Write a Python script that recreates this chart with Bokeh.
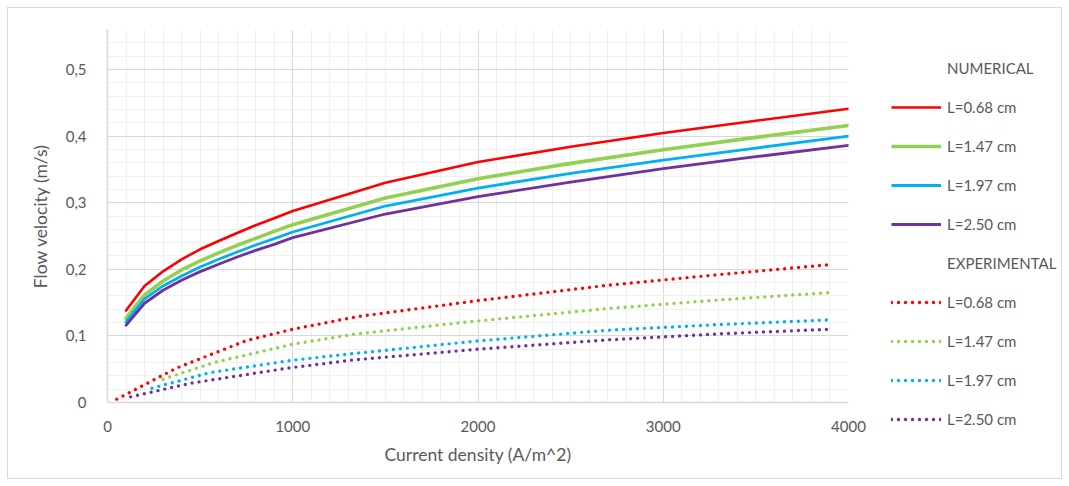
from bokeh.plotting import figure
from bokeh.layouts import row
from bokeh.models import (FixedTicker, Legend, LegendItem, Range1d, InlineStyleSheet)
from bokeh.embed import file_html
from bokeh.resources import INLINE

# ---- data ----
num_x = [100, 200, 300, 400, 500, 600, 700, 800, 900, 1000, 1500, 2000, 2500, 3000, 3500, 4000]
num_068 = [0.138, 0.175, 0.197, 0.215, 0.230, 0.2425, 0.2545, 0.266, 0.2765, 0.2875,
           0.330, 0.361, 0.384, 0.4045, 0.423, 0.441]
num_147 = [0.1265, 0.1615, 0.1825, 0.199, 0.2125, 0.2245, 0.236, 0.2465, 0.257, 0.267,
           0.307, 0.336, 0.359, 0.3795, 0.398, 0.416]
num_197 = [0.121, 0.1555, 0.175, 0.190, 0.2035, 0.215, 0.226, 0.2365, 0.246, 0.256,
           0.295, 0.322, 0.344, 0.364, 0.382, 0.400]
num_250 = [0.116, 0.149, 0.1685, 0.1835, 0.1965, 0.2075, 0.2185, 0.2285, 0.2375, 0.2475,
           0.283, 0.309, 0.331, 0.351, 0.369, 0.386]

exp_068_x = [50, 375, 750, 1000, 1350, 2000, 2700, 3300, 3900]
exp_068 = [0.005, 0.052, 0.093, 0.110, 0.129, 0.153, 0.176, 0.192, 0.207]
exp_147_x = [300, 575, 1000, 1330, 2000, 2700, 3300, 3900]
exp_147 = [0.035, 0.060, 0.0875, 0.1025, 0.1225, 0.141, 0.154, 0.165]
exp_197_x = [240, 555, 1000, 1330, 2000, 2700, 3300, 3900]
exp_197 = [0.0215, 0.045, 0.0635, 0.0735, 0.0925, 0.1085, 0.117, 0.124]
exp_250_x = [125, 450, 970, 1330, 2000, 2700, 3300, 3900]
exp_250 = [0.0085, 0.029, 0.0515, 0.064, 0.080, 0.094, 0.103, 0.110]

labels = ["L=0.68 cm", "L=1.47 cm", "L=1.97 cm", "L=2.50 cm"]
colors = ["#FF0000", "#92D050", "#00B0F0", "#7030A0"]
widths = [2.6, 3.6, 2.8, 2.8]

x_ticks = [0, 1000, 2000, 3000, 4000]
y_ticks = [0, 0.1, 0.2, 0.3, 0.4, 0.5]
y_tick_labels = ["0", "0,1", "0,2", "0,3", "0,4", "0,5"]

FONT = "Lato"
TXT = "#595959"
EXP_W = 3.4
EXP_DASH = "0 7"

# ---------------- main chart ----------------
p = figure(width=870, height=486, output_backend="svg", toolbar_location=None,
           x_range=Range1d(0, 4000), y_range=Range1d(0, 0.56),
           min_border_left=107, min_border_right=22, min_border_top=29,
           min_border_bottom=84)
p.background_fill_color = "white"
p.border_fill_color = None
p.outline_line_color = None

p.xaxis.ticker = FixedTicker(ticks=x_ticks, minor_ticks=list(range(0, 4001, 100)))
p.yaxis.ticker = FixedTicker(ticks=y_ticks, minor_ticks=[i * 0.02 for i in range(29)])
p.yaxis.major_label_overrides = {t: l for t, l in zip(y_ticks, y_tick_labels)}
p.xaxis.major_label_overrides = {t: str(t) for t in x_ticks}

for ax in (p.xaxis, p.yaxis):
    ax.axis_line_color = "#D9D9D9"
    ax.axis_line_width = 1.5
    ax.major_tick_line_color = None
    ax.minor_tick_line_color = None
    ax.major_label_text_font = FONT
    ax.major_label_text_font_size = "15px"
    ax.major_label_text_color = TXT
    ax.axis_label_text_font = FONT
    ax.axis_label_text_font_size = "17.5px"
    ax.axis_label_text_font_style = "normal"
    ax.axis_label_text_color = TXT

p.xaxis.axis_label = "Current density (A/m^2)"
p.yaxis.axis_label = "Flow velocity (m/s)"
p.xaxis.major_label_standoff = 12
p.yaxis.major_label_standoff = 15
p.xaxis.axis_label_standoff = 9
p.yaxis.axis_label_standoff = 12

p.xgrid.grid_line_color = "#D9D9D9"
p.ygrid.grid_line_color = "#D9D9D9"
p.xgrid.minor_grid_line_color = "#EFEFEF"
p.ygrid.minor_grid_line_color = "#EFEFEF"

num_series = [num_068, num_147, num_197, num_250]
exp_series = [(exp_068_x, exp_068), (exp_147_x, exp_147), (exp_197_x, exp_197), (exp_250_x, exp_250)]

for ys, c, w in zip(num_series, colors, widths):
    p.line(num_x, ys, line_color=c, line_width=w, line_join="round", line_cap="round")
for (xs, ys), c in zip(exp_series, colors):
    p.line(xs, ys, line_color=c, line_width=EXP_W, line_dash=EXP_DASH, line_cap="round")

# ---------------- legend panel ----------------
leg = figure(width=199, height=486, output_backend="svg", toolbar_location=None,
             x_range=Range1d(0, 1), y_range=Range1d(0, 1),
             x_axis_type=None, y_axis_type=None,
             min_border_left=0, min_border_right=0, min_border_top=0, min_border_bottom=0)
leg.frame_align = False
leg.outline_line_color = None
leg.xgrid.visible = False
leg.ygrid.visible = False
leg.background_fill_color = None
leg.border_fill_color = None

h_num = leg.line([5, 6], [5, 5], line_alpha=0)
h_exp = leg.line([5, 6], [5, 5], line_alpha=0)
ln = [leg.line([5, 6], [5, 5], line_color=c, line_width=w, line_cap="butt")
      for c, w in zip(colors, widths)]
le = [leg.line([5, 6], [5, 5], line_color=c, line_width=EXP_W, line_dash=EXP_DASH,
               line_cap="round") for c in colors]

items = [LegendItem(label="NUMERICAL", renderers=[h_num])]
items += [LegendItem(label=l, renderers=[r]) for l, r in zip(labels, ln)]
items += [LegendItem(label="EXPERIMENTAL", renderers=[h_exp])]
items += [LegendItem(label=l, renderers=[r]) for l, r in zip(labels, le)]

legend = Legend(items=items, location=(21, 57), padding=0, margin=0,
                border_line_color=None, background_fill_alpha=0,
                glyph_width=50, glyph_height=20, label_height=20, spacing=19,
                label_standoff=6, label_text_font=FONT, label_text_font_size="15px",
                label_text_color=TXT)
leg.add_layout(legend, "center")

css = InlineStyleSheet(css="""
:host { background: #ffffff;
        box-shadow: inset 0 0 0 7px #ffffff, inset 0 0 0 8px #D9D9D9; }
""")
layout = row(p, leg, spacing=0, stylesheets=[css])

open("out.html", "w").write(file_html(layout, INLINE))
